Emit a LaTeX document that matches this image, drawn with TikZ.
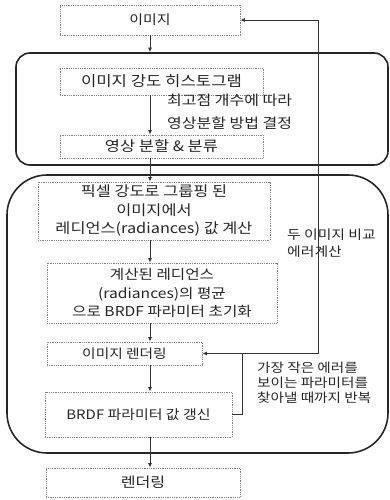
\documentclass[tikz,border=0pt]{standalone}
\usepackage{fontspec}
\setmainfont{Noto Sans CJK KR}[FakeStretch=1.15]
\usetikzlibrary{arrows.meta}
\newcommand{\fsz}[1]{\fontsize{#1}{18.5}\selectfont}
\begin{document}
\begin{tikzpicture}[x=1pt,y=-1pt,
  box/.style={draw=black!50, densely dotted, line width=0.8pt, inner sep=0pt, align=center, text=black!85},
  grp/.style={draw=black!85, line width=1.6pt, inner sep=0pt},
  arr/.style={draw=black!80, line width=0.9pt, -{Latex[length=4.5pt,width=4pt]}},
  lbl/.style={inner sep=0pt, align=left, anchor=west, text=black!85}]
\useasboundingbox (0,0) rectangle (390,500);

% group containers
\node[grp, rounded corners=14pt, minimum width=372pt, minimum height=112pt] (grp1) at (202,109) {};
\node[grp, rounded corners=40pt, minimum width=381pt, minimum height=278pt] (grp2) at (197.5,314) {};

% boxes
\node[box, minimum width=180pt, minimum height=30pt, font=\fsz{13}] (img) at (150,20) {이미지};
\node[box, minimum width=203pt, minimum height=27pt, font=\fsz{14.5}] (hist) at (161.5,81.5) {이미지 강도 히스토그램};
\node[box, minimum width=203pt, minimum height=23pt, font=\fsz{14.3}] (seg) at (161.5,146.5) {영상 분할 \& 분류};
\node[box, minimum width=232pt, minimum height=58pt, font=\fsz{14.2}] (pix) at (154,211) {픽셀 강도로 그룹핑 된\\이미지에서\\레디언스(radiances) 값 계산};
\node[box, minimum width=230pt, minimum height=60pt, font=\fsz{13.6}] (init) at (162,293) {계산된 레디언스\\(radiances)의 평균\\으로 BRDF 파라미터 초기화};
\node[box, minimum width=155pt, minimum height=23pt, font=\fsz{12.8}] (rend) at (124.5,353.5) {이미지 렌더링};
\node[box, minimum width=187pt, minimum height=45pt, font=\fsz{13}] (upd) at (138.5,414.5) {BRDF 파라미터 값 갱신};
\node[box, minimum width=194pt, minimum height=29pt, font=\fsz{14}] (final) at (143,482.5) {렌더링};

% labels
\node[lbl, font=\fontsize{13.9}{22.5}\selectfont] (l1) at (167,112) {최고점 개수에 따라\\영상분할 방법 결정};
\node[lbl, font=\fontsize{12.9}{17}\selectfont] (l2) at (287,243.5) {두 이미지 비교\\에러계산};
\node[lbl, font=\fontsize{12.7}{15}\selectfont] (l3) at (257,382.5) {가장 작은 에러를\\보이는 파라미터를\\찾아낼 때까지 반복};

% main flow
\draw[arr] (img.south) -- (img.south |- grp1.north);
\draw[arr] (hist.south -| img.south) -- (seg.north -| img.south);
\draw[arr] (seg.south -| img.south) -- (pix.north -| img.south);
\draw[arr] (pix.south -| img.south) -- (init.north -| img.south);
\draw[arr] (init.south -| img.south) -- (rend.north -| img.south);
\draw[arr] (rend.south -| img.south) -- (upd.north -| img.south);
\draw[arr] (upd.south -| img.south) -- (final.north -| img.south);

% feedback loops
\coordinate (j1) at (242,353.5);
\coordinate (j2) at (318,353.5);
\draw[arr] (upd.east) -| (j1) -- (rend.east);
\draw[arr] (j1) -- (j2) |- (img.east);
\end{tikzpicture}
\end{document}
